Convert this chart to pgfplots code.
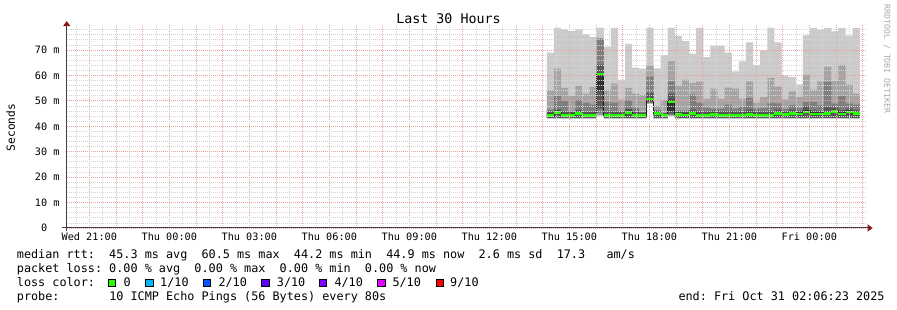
\documentclass[border=0pt]{standalone}
\usepackage{fontspec}
\setmainfont{DejaVu Sans Mono}
\usepackage{pgfplots}
\pgfplotsset{compat=1.18}
\usepackage{pgfplotstable}
\usepgfplotslibrary{fillbetween}
\usetikzlibrary{arrows.meta}

\definecolor{sA}{HTML}{CACACA}
\definecolor{sB}{HTML}{A4A4A4}
\definecolor{sC}{HTML}{7E7E7E}
\definecolor{sD}{HTML}{585858}
\definecolor{sE}{HTML}{323232}
\definecolor{medline}{HTML}{202020}
\definecolor{l0}{HTML}{26FF00}
\definecolor{l1}{HTML}{00B8FF}
\definecolor{l2}{HTML}{0059FF}
\definecolor{l3}{HTML}{5E00FF}
\definecolor{l4}{HTML}{7E00FF}
\definecolor{l5}{HTML}{DD00FF}
\definecolor{l9}{HTML}{FF0000}
\definecolor{mgridc}{HTML}{E8A2A2}
\definecolor{gridc}{HTML}{D6D6D6}
\definecolor{axisc}{HTML}{404040}
\definecolor{arrowc}{HTML}{8B1A1A}
\definecolor{wmc}{HTML}{A8A8A8}

\pgfplotstableread{
x p1 p2 p3 p4 p5 med p6 p7 p8 p9 p10
17.160 43.1 43.15 43.2 43.3 43.9 44.3 45.0 45.9 46.7 54.2 69.0
17.427 43.1 43.15 43.2 43.3 45.1 45.5 46.2 46.7 52.0 62.7 78.7
17.693 43.1 43.15 43.2 43.3 43.9 44.3 45.0 45.9 50.0 55.1 78.1
17.960 43.1 43.15 43.2 43.3 43.9 44.3 45.0 45.6 45.8 52.0 77.4
18.227 43.1 43.15 43.2 43.3 44.6 45.0 45.7 46.5 50.3 55.9 78.1
18.493 43.1 43.15 43.2 43.3 43.9 44.3 45.0 45.7 49.2 52.9 76.2
18.760 43.1 43.15 43.2 43.3 43.9 44.3 45.0 45.7 48.5 55.5 75.2
19.027 44.0 44.5 45.0 47.0 54.0 60.5 61.0 64.3 74.5 74.6 78.7
19.293 43.1 43.15 43.2 43.3 43.8 44.2 44.9 45.6 49.6 54.2 71.3
19.560 43.1 43.15 43.2 43.3 43.8 44.2 44.9 45.6 49.2 56.8 78.7
19.827 43.1 43.15 43.2 43.3 43.8 44.2 44.9 45.5 46.0 50.5 58.4
20.093 43.1 43.15 43.2 43.3 45.1 45.5 46.2 46.9 50.3 55.1 72.4
20.360 43.1 43.15 43.2 43.3 43.8 44.2 44.9 45.6 47.2 52.9 63.1
20.627 43.1 43.15 43.2 43.3 43.8 44.2 44.9 45.4 45.6 52.3 62.7
20.893 48.8 49.0 49.2 49.5 50.0 50.7 51.3 53.1 59.5 64.0 78.7
21.160 43.1 43.15 43.2 43.3 44.6 45.0 45.7 46.0 46.5 48.0 62.8
21.427 43.1 43.15 43.2 43.3 43.8 44.2 44.9 45.1 45.3 50.3 68.0
21.693 44.0 44.2 44.5 45.0 46.0 49.6 50.5 52.9 57.7 65.6 78.7
21.960 43.1 43.15 43.2 43.3 44.3 44.7 45.4 45.8 46.2 55.9 75.6
22.227 43.1 43.15 43.2 43.3 44.0 44.4 45.1 45.6 46.2 58.4 73.5
22.493 43.1 43.15 43.2 43.3 44.6 45.0 45.7 46.7 52.5 57.0 68.6
22.760 43.1 43.15 43.2 43.3 43.8 44.2 44.9 45.9 49.2 57.6 78.7
23.027 43.1 43.15 43.2 43.3 43.8 44.2 44.9 45.9 47.2 50.8 67.2
23.293 43.1 43.15 43.2 43.3 44.3 44.7 45.4 46.0 47.0 54.8 71.6
23.560 43.1 43.15 43.2 43.3 43.8 44.2 44.9 45.9 47.0 50.8 71.6
23.827 43.1 43.15 43.2 43.3 43.8 44.2 44.9 45.9 48.5 55.2 69.0
24.093 43.1 43.15 43.2 43.3 43.8 44.2 44.9 45.9 47.0 54.8 61.6
24.360 43.1 43.15 43.2 43.3 43.8 44.2 44.9 45.9 47.6 50.8 65.5
24.627 43.1 43.15 43.2 43.3 44.3 44.7 45.4 46.7 51.2 57.7 73.0
24.893 43.1 43.15 43.2 43.3 43.8 44.2 44.9 45.9 47.0 49.3 64.2
25.160 43.1 43.15 43.2 43.3 43.8 44.2 44.9 45.9 47.2 51.5 69.9
25.427 43.1 43.15 43.2 43.3 43.8 44.2 44.9 45.9 49.2 59.0 78.7
25.693 43.1 43.15 43.2 43.3 44.6 45.0 45.7 46.7 49.0 55.6 73.0
25.960 43.1 43.15 43.2 43.3 44.2 44.6 45.3 45.9 47.0 50.6 59.8
26.227 43.1 43.15 43.2 43.3 44.6 45.0 45.7 46.7 48.3 53.7 59.3
26.493 43.1 43.15 43.2 43.3 44.4 44.8 45.5 46.0 47.2 51.5 56.5
26.760 43.1 43.15 43.2 43.3 45.3 45.7 46.4 48.0 49.6 60.3 75.8
27.027 43.1 43.15 43.2 43.3 44.5 44.9 45.6 46.3 49.6 54.4 78.6
27.293 43.1 43.15 43.2 43.3 44.4 44.8 45.5 46.0 48.3 57.7 78.0
27.560 43.1 43.15 43.2 43.3 44.6 45.0 45.7 47.5 57.5 63.4 78.6
27.827 43.1 43.15 43.2 43.3 45.5 45.9 46.6 47.3 49.0 57.8 77.3
28.093 43.1 43.15 43.2 43.3 44.4 44.8 45.5 46.5 52.0 64.2 78.6
28.360 43.1 43.15 43.2 43.3 45.2 45.6 46.3 47.0 49.0 56.4 75.7
28.627 43.1 43.15 43.2 43.3 44.6 45.0 45.7 46.5 48.5 52.9 78.6
28.893 43.1 43.15 43.2 43.3 44.6 45.0 45.7 46.5 48.5 52.9 78.6
}\smoke

\newcommand\lfont{\fontsize{11.8}{14}\selectfont}
\newcommand\tfont{\fontsize{10.2}{12}\selectfont}

\begin{document}
\frenchspacing
\begin{tikzpicture}[x=1pt,y=1pt]
\path (0,0) rectangle (897,310);
\begin{axis}[
  at={(66.7pt,82pt)}, anchor=south west,
  scale only axis, width=800pt, height=203.4pt,
  xmin=-0.8475, xmax=29.1525, ymin=0, ymax=80,
  axis x line=bottom, axis y line=left,
  axis line style={draw=axisc, line width=1pt},
  x axis line style={-{Triangle[length=5pt,width=7pt,color=arrowc]}, shorten <=-4.5pt, shorten >=-6pt},
  y axis line style={-{Triangle[length=5pt,width=7pt,color=arrowc]}, shorten <=-3pt, shorten >=-3.5pt},
  axis on top,
  grid=both,
  every major grid/.style={draw=mgridc, dash pattern=on 1pt off 1pt, line width=0.8pt},
  every minor grid/.style={draw=gridc, dash pattern=on 1pt off 1pt, line width=0.8pt},
  major tick length=0pt, minor tick length=0pt,
  xtick={0,1,...,29},
  xticklabels={Wed 21:00,,,Thu 00:00,,,Thu 03:00,,,Thu 06:00,,,Thu 09:00,,,Thu 12:00,,,Thu 15:00,,,Thu 18:00,,,Thu 21:00,,,Fri 00:00,,},
  minor xtick={-0.5,0.5,...,28.5},
  ytick={0,10,...,70},
  yticklabels={0\hphantom{~m},10~m,20~m,30~m,40~m,50~m,60~m,70~m},
  minor ytick={2,4,6,8,12,14,16,18,22,24,26,28,32,34,36,38,42,44,46,48,52,54,56,58,62,64,66,68,72,74,76,78},
  xticklabel style={font=\tfont, anchor=north, inner sep=0pt, yshift=-5pt},
  yticklabel style={font=\tfont, anchor=east, inner sep=0pt, xshift=-7pt},
  clip=true,
]
\addplot[name path=P1, draw=none, const plot mark left, forget plot] table[x=x,y=p1]{\smoke};
\addplot[name path=P2, draw=none, const plot mark left, forget plot] table[x=x,y=p2]{\smoke};
\addplot[name path=P3, draw=none, const plot mark left, forget plot] table[x=x,y=p3]{\smoke};
\addplot[name path=P4, draw=none, const plot mark left, forget plot] table[x=x,y=p4]{\smoke};
\addplot[name path=P5, draw=none, const plot mark left, forget plot] table[x=x,y=p5]{\smoke};
\addplot[name path=P6, draw=none, const plot mark left, forget plot] table[x=x,y=p6]{\smoke};
\addplot[name path=P7, draw=none, const plot mark left, forget plot] table[x=x,y=p7]{\smoke};
\addplot[name path=P8, draw=none, const plot mark left, forget plot] table[x=x,y=p8]{\smoke};
\addplot[name path=P9, draw=none, const plot mark left, forget plot] table[x=x,y=p9]{\smoke};
\addplot[name path=P10, draw=none, const plot mark left, forget plot] table[x=x,y=p10]{\smoke};
\addplot[fill=sA, draw=none, forget plot] fill between[of=P10 and P1];
\addplot[fill=sB, draw=none, forget plot] fill between[of=P9 and P2];
\addplot[fill=sC, draw=none, forget plot] fill between[of=P8 and P3];
\addplot[fill=sD, draw=none, forget plot] fill between[of=P7 and P4];
\addplot[fill=sE, draw=none, forget plot] fill between[of=P6 and P5];
\addplot[const plot mark left, draw=medline, line width=1pt, no marks, forget plot] table[x=x,y=med]{\smoke};
\addplot[jump mark left, draw=l0, line width=2.6pt, no marks, forget plot] table[x=x,y=med]{\smoke};
\end{axis}

\node[anchor=base, font=\fontsize{13.3}{16}\selectfont] at (448.5,286) {Last 30 Hours};
\node[rotate=90, font=\fontsize{11.2}{13}\selectfont] at (10.8,182.5) {Seconds};
\node[rotate=-90, font=\fontsize{8.2}{10}\selectfont, text=wmc] at (887,251) {RRDTOOL~/~TOBI~OETIKER};

\node[anchor=base west, inner sep=0pt, font=\lfont] at (16.7,51.7) {median~rtt:~~45.3~ms~avg~~60.5~ms~max~~44.2~ms~min~~44.9~ms~now~~2.6~ms~sd~~17.3~~~am/s};
\node[anchor=base west, inner sep=0pt, font=\lfont] at (16.7,37.7) {packet~loss:~0.00~\%~avg~~0.00~\%~max~~0.00~\%~min~~0.00~\%~now};
\node[anchor=base west, inner sep=0pt, font=\lfont] at (16.7,23.3) {loss~color:};
\foreach \bx/\col/\lab/\tx in {108/l0/0/123.3, 145.7/l1/1\slash 10/160, 203/l2/2\slash 10/218.3, 261.7/l3/3\slash 10/276.7, 319.3/l4/4\slash 10/334.3, 377.7/l5/5\slash 10/392.3, 436/l9/9\slash 10/450}{
  \filldraw[fill=\col, draw=black, line width=0.8pt] (\bx,23.6) rectangle ++(7.4,7.2);
  \node[anchor=base west, inner sep=0pt, font=\lfont] at (\tx,23.3) {\lab};
}
\node[anchor=base west, inner sep=0pt, font=\lfont] at (16.7,9.3) {probe:~~~~~~~10~ICMP~Echo~Pings~(56~Bytes)~every~80s};
\node[anchor=base west, inner sep=0pt, font=\lfont] at (678.3,9.3) {end:~Fri~Oct~31~02:06:23~2025};
\end{tikzpicture}
\end{document}
